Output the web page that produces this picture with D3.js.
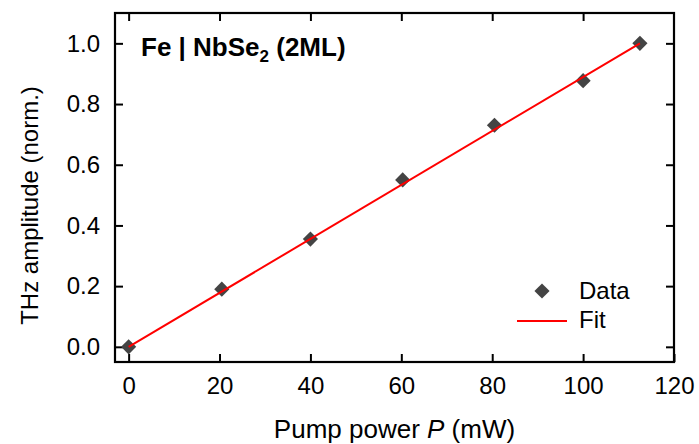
<!DOCTYPE html>
<html>
<head>
<meta charset="utf-8">
<script src="https://cdn.jsdelivr.net/npm/d3@7"></script>
<style>
	body { margin: 0; background: #fff; }
	svg { font-family: "Liberation Sans", Arial, sans-serif; }
</style>
</head>
<body>
<svg id="chart" width="699" height="444"></svg>
<script>
// measured points
const power = [0, 20.5, 40, 60.3, 80.5, 100, 112.5];
const amplitude = [0, 0.19, 0.355, 0.55, 0.73, 0.877, 1.0];
// linear fit endpoints
const fitX = [0, 112.5];
const fitY = [0, 1.0];
const xTicks = [0, 20, 40, 60, 80, 100, 120];
const yTicks = [0, 0.2, 0.4, 0.6, 0.8, 1.0];

const svg = d3.select("#chart");
const margin = {top: 13, right: 25, bottom: 82, left: 115};
const width = 699 - margin.left - margin.right;
const height = 444 - margin.top - margin.bottom;

const x = d3.scaleLinear().domain([-3, 120]).range([0, width]);
const y = d3.scaleLinear().domain([-0.05, 1.1]).range([height, 0]);

const g = svg.append("g")
	.attr("transform", `translate(${margin.left}, ${margin.top})`);

const tickLen = 8;

// bottom axis with labels, inward ticks
g.append("g")
	.attr("transform", `translate(0, ${height})`)
	.call(d3.axisBottom(x).tickValues(xTicks).tickSizeInner(-tickLen).tickSizeOuter(0).tickPadding(15).tickFormat(d3.format("d")))
	.call(a => a.select(".domain").remove());

// top mirror ticks
g.append("g")
	.call(d3.axisTop(x).tickValues(xTicks.filter(d => d < 120)).tickSizeInner(-tickLen).tickSizeOuter(0).tickFormat(""))
	.call(a => a.select(".domain").remove());

// left axis
g.append("g")
	.call(d3.axisLeft(y).tickValues(yTicks).tickSizeInner(-tickLen).tickSizeOuter(0).tickPadding(15).tickFormat(d3.format(".1f")))
	.call(a => a.select(".domain").remove());

// right mirror ticks
g.append("g")
	.attr("transform", `translate(${width}, 0)`)
	.call(d3.axisRight(y).tickValues(yTicks).tickSizeInner(-tickLen).tickSizeOuter(0).tickFormat(""))
	.call(a => a.select(".domain").remove());

g.selectAll(".tick line").attr("stroke", "#000").attr("stroke-width", 2);
g.selectAll(".tick text").attr("font-size", 24).attr("fill", "#000")
	.attr("font-family", "Liberation Sans, Arial, sans-serif");

// frame
g.append("rect")
	.attr("width", width)
	.attr("height", height)
	.attr("fill", "none")
	.attr("stroke", "#000")
	.attr("stroke-width", 2.2);

const line = d3.line().x(d => x(d[0])).y(d => y(d[1]));

// data diamonds
const diamond = d3.symbol().type(d3.symbolSquare).size(115);
g.selectAll(".pt")
	.data(d3.zip(power, amplitude))
	.join("path")
	.attr("class", "pt")
	.attr("d", diamond)
	.attr("fill", "#444")
	.attr("transform", d => `translate(${x(d[0])}, ${y(d[1])}) rotate(45)`);

// fit line on top of the markers
g.append("path")
	.datum(d3.zip(fitX, fitY))
	.attr("fill", "none")
	.attr("stroke", "#ff0000")
	.attr("stroke-width", 2)
	.attr("d", line);

// sample label
const lbl = g.append("text")
	.attr("x", 26)
	.attr("y", 43)
	.attr("font-size", 26)
	.attr("font-weight", "bold");
lbl.append("tspan").text("Fe | NbSe");
lbl.append("tspan").attr("font-size", 17).attr("dy", 6).text("2");
lbl.append("tspan").attr("dy", -6).text(" (2ML)");

// legend
const lg = g.append("g").attr("transform", `translate(${542 - margin.left}, ${291 - margin.top})`);
lg.append("path")
	.attr("d", diamond)
	.attr("fill", "#444")
	.attr("transform", "rotate(45)");
lg.append("text").attr("x", 37).attr("y", 8).attr("font-size", 24).text("Data");
lg.append("line")
	.attr("x1", -25).attr("x2", 25).attr("y1", 30).attr("y2", 30)
	.attr("stroke", "#ff0000").attr("stroke-width", 2);
lg.append("text").attr("x", 37).attr("y", 37).attr("font-size", 24).text("Fit");

// axis titles
const xt = svg.append("text")
	.attr("x", margin.left + width / 2)
	.attr("y", 438)
	.attr("text-anchor", "middle")
	.attr("font-size", 26);
xt.append("tspan").text("Pump power ");
xt.append("tspan").attr("font-style", "italic").text("P");
xt.append("tspan").text(" (mW)");

svg.append("text")
	.attr("transform", `translate(38, ${margin.top + height / 2 + 18}) rotate(-90)`)
	.attr("text-anchor", "middle")
	.attr("font-size", 24)
	.text("THz amplitude (norm.)");
</script>
</body>
</html>
